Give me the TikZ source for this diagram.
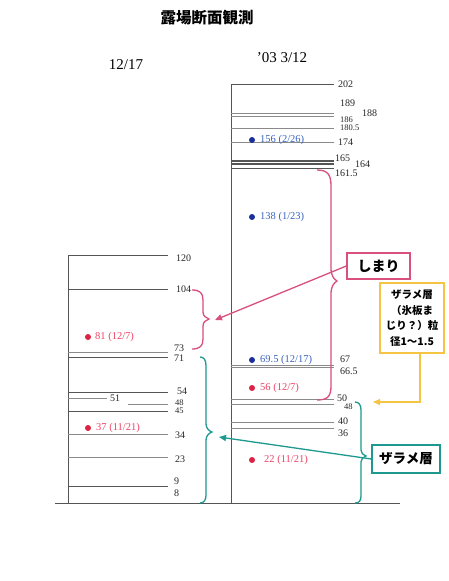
\documentclass[tikz,border=0pt]{standalone}
\usepackage{fontspec}
\setmainfont{Liberation Serif}
\newfontfamily\jp{Noto Sans CJK JP}
\usetikzlibrary{arrows.meta}
\definecolor{pinkc}{HTML}{D94F7E}
\definecolor{tealc}{HTML}{1E9990}
\definecolor{yelc}{HTML}{F6C445}
\definecolor{bluet}{HTML}{3A64C0}
\definecolor{redt}{HTML}{EE4466}
\definecolor{blued}{HTML}{1A2F9A}
\definecolor{redd}{HTML}{DD2244}
\definecolor{linec}{HTML}{555555}
\definecolor{linel}{HTML}{8A8A8A}
\begin{document}
\begin{tikzpicture}[x=1pt,y=-1pt,
  layer/.style={draw=linec, line width=1pt},
  layerl/.style={draw=linel, line width=1pt},
  axis/.style={draw=linec, line width=1pt},
  num/.style={anchor=west, inner sep=0pt, font=\fontsize{10}{10}\selectfont, text=black!85},
  nums/.style={num, font=\fontsize{8.5}{8.5}\selectfont},
  bluelab/.style={anchor=west, inner sep=0pt, font=\fontsize{10.5}{10.5}\selectfont, text=bluet},
  redlab/.style={anchor=west, inner sep=0pt, font=\fontsize{10.5}{10.5}\selectfont, text=redt},
  dotb/.style={circle, fill=blued, inner sep=0pt, minimum size=6pt},
  dotr/.style={circle, fill=redd, inner sep=0pt, minimum size=6pt},
  head/.style={inner sep=0pt, font=\fontsize{15}{15}\selectfont},
  brace/.style={line width=1.3pt},
  arr/.style={line width=1.3pt, -{Triangle[length=7pt,width=6pt]}},
]
\useasboundingbox (0,0) rectangle (448,581);
\fill[white] (0,0) rectangle (448,581);

% titles
\node[inner sep=0pt, font=\jp\bfseries\fontsize{15.5}{16}\selectfont] (title) at (207,18) {露場断面観測};
\node[head] (hl) at (126,65) {12/17};
\node[head] (hr) at (282,58) {'03 3/12};

% base line and verticals
\coordinate (b0) at (55,503);
\coordinate (b1) at (400,503);
\draw[axis] (b0) -- (b1);
\coordinate (lv0) at (68,255);
\coordinate (lv1) at (68,503);
\draw[axis] (lv0) -- (lv1);
\coordinate (rv0) at (231,84);
\coordinate (rv1) at (231,503);
\draw[axis] (rv0) -- (rv1);

% left column layers
\draw[layer] (68,255) -- (168,255);
\draw[layer] (68,289) -- (168,289);
\draw[layerl] (68,352) -- (168,352);
\draw[layer] (68,357) -- (168,357);
\draw[layer] (68,392) -- (168,392);
\draw[layerl] (68,398) -- (107,398);
\draw[layerl] (128,404) -- (168,404);
\draw[layer] (68,411) -- (168,411);
\draw[layerl] (68,434) -- (168,434);
\draw[layerl] (68,457) -- (168,457);
\draw[layer] (68,486) -- (168,486);

\node[num] (l120) at (176,258) {120};
\node[num] (l104) at (176,289) {104};
\node[num] (l73) at (174,348) {73};
\node[num] (l71) at (174,358) {71};
\node[num] (l54) at (177,391) {54};
\node[num] (l51) at (110,398) {51};
\node[nums] (l48) at (175,402.5) {48};
\node[nums] (l45) at (175,411) {45};
\node[num] (l34) at (175,435) {34};
\node[num] (l23) at (175,459) {23};
\node[num] (l9) at (174,481) {9};
\node[num] (l8) at (174,493) {8};

\node[dotr] (dl81) at (88,337) {};
\node[redlab] (tl81) at (95,337) {81 (12/7)};
\node[dotr] (dl37) at (88,428) {};
\node[redlab] (tl37) at (96,428) {37 (11/21)};

% right column layers
\draw[layer] (231,84) -- (334,84);
\draw[layerl] (231,113) -- (334,113);
\draw[layerl] (231,116) -- (334,116);
\draw[layerl] (231,128) -- (334,128);
\draw[layerl] (231,142) -- (334,142);
\draw[layer, line width=1.3pt] (231,161) -- (334,161);
\draw[layer, line width=1.3pt] (231,164) -- (334,164);
\draw[layer] (231,168) -- (334,168);
\draw[layerl] (231,365) -- (334,365);
\draw[layerl] (231,367.5) -- (334,367.5);
\draw[layerl] (231,399) -- (334,399);
\draw[layerl] (231,404) -- (334,404);
\draw[layerl] (231,422) -- (334,422);
\draw[layerl] (231,428) -- (334,428);

\node[num] (r202) at (338,84) {202};
\node[num] (r189) at (340,103) {189};
\node[num] (r188) at (362,113) {188};
\node[nums] (r186) at (340,119.5) {186};
\node[nums] (r180) at (340,128) {180.5};
\node[num] (r174) at (338,142) {174};
\node[num] (r165) at (335,158) {165};
\node[num] (r164) at (355,164) {164};
\node[num] (r161) at (335,173) {161.5};
\node[num] (r67) at (340,359) {67};
\node[num] (r665) at (340,371) {66.5};
\node[num] (r50) at (337,398) {50};
\node[nums] (r48) at (344,407) {48};
\node[num] (r40) at (338,421) {40};
\node[num] (r36) at (338,433) {36};

\node[dotb] (dr156) at (252,140) {};
\node[bluelab] (tr156) at (260,140) {156 (2/26)};
\node[dotb] (dr138) at (252,217) {};
\node[bluelab] (tr138) at (260,217) {138 (1/23)};
\node[dotb] (dr69) at (252,360) {};
\node[bluelab] (tr69) at (260,360) {69.5 (12/17)};
\node[dotr] (dr56) at (252,388) {};
\node[redlab] (tr56) at (260,388) {56 (12/7)};
\node[dotr] (dr22) at (252,460) {};
\node[redlab] (tr22) at (264,460) {22 (11/21)};

% boxes
\node[draw=pinkc, line width=1.4pt, minimum width=63pt, minimum height=26pt, inner sep=0pt,
      font=\jp\bfseries\fontsize{14}{14}\selectfont] (shimari) at (378.5,266) {しまり};
\node[draw=yelc, line width=1.5pt, minimum width=64pt, minimum height=70pt, inner sep=1pt, align=center,
      font=\jp\bfseries\fontsize{10.5}{15.5}\selectfont] (yel) at (412,318) {ザラメ層\\（氷板ま\\じり？）粒\\径1〜1.5};
\node[draw=tealc, line width=1.4pt, minimum width=68pt, minimum height=28pt, inner sep=0pt,
      font=\jp\bfseries\fontsize{13.5}{14}\selectfont] (zarame) at (406,459) {ザラメ層};

% pink braces
\draw[pinkc, brace] (317,170) .. controls (328,170) and (331,175) .. (331,186) -- (331,268)
   .. controls (331,276) and (334,279) .. (337,281) .. controls (334,283) and (331,286) .. (331,294)
   -- (331,386) .. controls (331,396) and (328,400) .. (317,400);
\draw[pinkc, brace] (192,290) .. controls (200,290) and (203,293) .. (203,300) -- (203,312)
   .. controls (203,316) and (206,318) .. (209,319) .. controls (206,320) and (203,322) .. (203,326)
   -- (203,339) .. controls (203,346) and (200,349) .. (192,349);
\coordinate (pinkend) at (215,320);
\draw[pinkc, arr] (shimari.west) -- (pinkend);

% teal braces
\draw[tealc, brace] (200,357) .. controls (204,357) and (206,360) .. (206,366) -- (206,424)
   .. controls (206,428) and (209,431) .. (212,432) .. controls (209,433) and (206,436) .. (206,440)
   -- (206,495) .. controls (206,500) and (204,503) .. (200,503);
\draw[tealc, brace] (355,402) .. controls (359,402) and (361,405) .. (361,410) -- (361,450)
   .. controls (361,453) and (363,455) .. (366,456) .. controls (363,457) and (361,459) .. (361,462)
   -- (361,496) .. controls (361,501) and (359,503) .. (355,503);
\coordinate (tealend) at (219,437);
\draw[tealc, arr] (zarame.west) -- (tealend);

% yellow arrow
\coordinate (yelbot) at (420,353);
\coordinate (yelend) at (373,402);
\draw[yelc, arr] (yelbot) |- (yelend);
\end{tikzpicture}
\end{document}
